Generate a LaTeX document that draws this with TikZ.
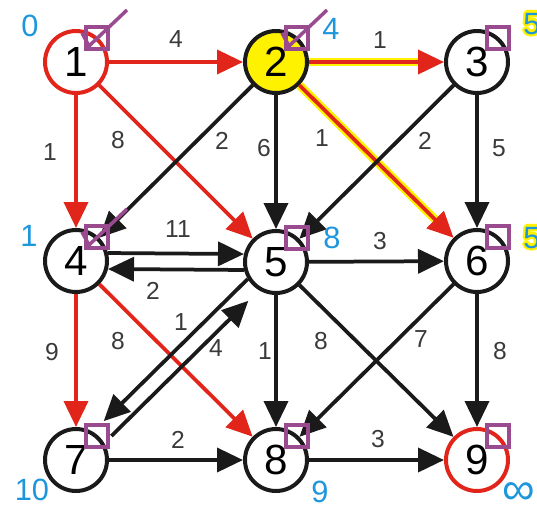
\documentclass[tikz,border=0pt]{standalone}
\usepackage{fontspec}
\setmainfont{Liberation Sans}
\usetikzlibrary{arrows.meta, calc}
\definecolor{PathRed}{HTML}{E1251B}
\definecolor{MarkPlum}{HTML}{9A4A8E}
\definecolor{DistBlue}{HTML}{1E96DC}
\definecolor{WeightGray}{HTML}{3A3A3A}
\definecolor{InkBlack}{HTML}{1A1A1A}
\begin{document}
\begin{tikzpicture}[x=0.02cm, y=-0.02cm,
    vertex/.style={circle, draw=InkBlack, line width=0.08cm, minimum size=1.24cm, inner sep=0pt, font=\fontsize{24}{24}\selectfont},
    vplain/.style={},
    vstart/.style={draw=PathRed},
    vcur/.style={fill=yellow},
    arc/.style={draw=InkBlack, line width=0.075cm, -{Triangle[length=0.52cm, width=0.48cm]}},
    redarc/.style={arc, draw=PathRed},
    hotarc/.style={redarc, preaction={draw=yellow, line width=0.17cm, -, shorten >=0.3cm}},
    weight/.style={text=WeightGray, font=\fontsize{14}{14}\selectfont, inner sep=0pt},
    dist/.style={text=DistBlue, font=\fontsize{17.5}{17.5}\selectfont, inner sep=0pt},
    markbox/.style={draw=MarkPlum, line width=0.08cm, minimum size=0.45cm, inner sep=0pt},
    checkmark/.style={draw=MarkPlum, line width=0.07cm}]
    \useasboundingbox (0,0) rectangle (537,505);
    % vertices of the graph
    \foreach \n/\x/\y/\s in {1/76/62/vstart, 2/276/62/vcur, 3/477/62/vplain,
                             4/76/261/vplain, 5/276/262/vplain, 6/477/261/vplain,
                             7/76/460/vplain, 8/276/460/vplain, 9/477/460/vstart} {
        \node[vertex, \s] (v\n) at (\x,\y) {\n};
    }
    % edges
    \draw[redarc] (v1) -- (v2);
    \draw[hotarc] (v2) -- (v3);
    \draw[redarc] (v1) -- (v4);
    \draw[redarc] (v1) -- (v5);
    \draw[arc] (v2) -- (v4);
    \draw[arc] (v2) -- (v5);
    \draw[hotarc] (v2) -- (v6);
    \draw[arc] (v3) -- (v5);
    \draw[arc] (v3) -- (v6);
    \draw[arc] (v4.14) -- (v5.166);
    \draw[arc] (v5.194) -- (v4.346);
    \draw[arc] (v5) -- (v6);
    \draw[redarc] (v4) -- (v7);
    \draw[redarc] (v4) -- (v8);
    \draw[arc, shorten >=0.3cm] (v5.211) -- (v7.59);
    \draw[arc, shorten >=0.3cm, shorten <=0.2cm] (v7.31) -- (v5.239);
    \draw[arc] (v5) -- (v8);
    \draw[arc] (v5) -- (v9);
    \draw[arc] (v6) -- (v8);
    \draw[arc] (v6) -- (v9);
    \draw[arc] (v7) -- (v8);
    \draw[arc] (v8) -- (v9);
    % weights
    \foreach \t/\x/\y [count=\i] in {4/176/39, 1/380/40, 1/50/152, 8/118/140, 2/222/141,
                                     6/264/148, 1/322/138, 2/425/141, 5/499/148, 11/178/229,
                                     2/153/291, 3/380/241, 9/52/352, 8/118/341, 1/181/322,
                                     4/216/348, 1/265/351, 8/321/341, 7/421/339, 8/500/351,
                                     2/178/440, 3/378/439} {
        \node[weight] (w\i) at (\x,\y) {\t};
    }
    % visited marks
    \foreach \n in {1,...,9} {
        \node[markbox] (s\n) at ([shift={(21,-24)}]v\n.center) {};
    }
    \foreach \n in {1,2,4} {
        \draw[checkmark] ([shift={(-15,-5)}]s\n.center) -- ([shift={(-8,8)}]s\n.center) -- ([shift={(30,-28)}]s\n.center);
    }
    % distances
    \foreach \a in {0,30,...,330} {
        \node[dist, text=yellow] (ha\a) at ($(532,24)+(\a:2.5)$) {5};
        \node[dist, text=yellow] (hb\a) at ($(532,238)+(\a:2.5)$) {5};
    }
    \foreach \t/\x/\y [count=\i] in {0/30/26, 4/331/29, 5/532/24, 1/29/236, 8/332/238,
                                     5/532/238, 10/32/490, 9/320/492} {
        \node[dist] (d\i) at (\x,\y) {\t};
    }
    \node[dist, font=\fontsize{26}{26}\selectfont] (dinf) at (519,494) {∞};
\end{tikzpicture}
\end{document}
